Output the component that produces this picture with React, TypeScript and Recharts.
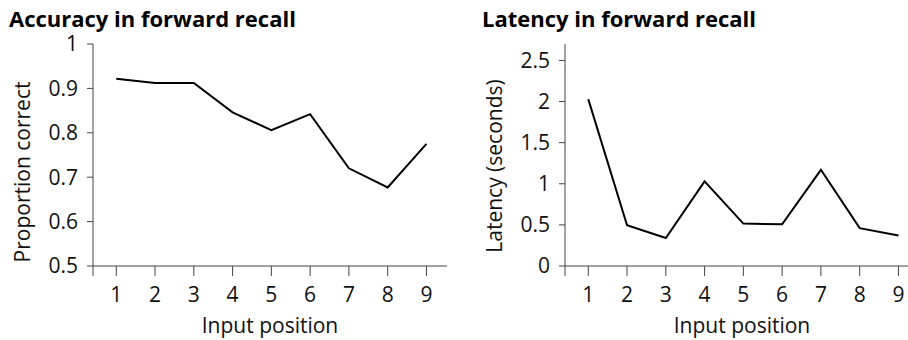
import { LineChart, Line, XAxis, YAxis } from "recharts";

// ─── Data ─────────────────────────────────────────────────────────────────────

const positions = [1, 2, 3, 4, 5, 6, 7, 8, 9];
const accuracy = [0.922, 0.912, 0.912, 0.846, 0.806, 0.842, 0.72, 0.677, 0.775];
const latency = [2.03, 0.496, 0.34, 1.03, 0.516, 0.508, 1.17, 0.46, 0.37];

const accuracyTicks = [0.5, 0.6, 0.7, 0.8, 0.9, 1];
const latencyTicks = [0, 0.5, 1, 1.5, 2, 2.5];
const xTicks = [0.4, 1, 2, 3, 4, 5, 6, 7, 8, 9];

const FONT = "'Open Sans', Lato, sans-serif";
const INK = "#111";
const AXIS = "#444";

const accuracyData = positions.map((p, i) => ({ pos: p, value: accuracy[i] }));
const latencyData = positions.map((p, i) => ({ pos: p, value: latency[i] }));

// ─── Panel ────────────────────────────────────────────────────────────────────

function yLabel(text: string, shift: number) {
  return (props: any) => {
    const vb = props.viewBox;
    const x = vb.x + vb.width - 71;
    const y = vb.y + vb.height / 2 + shift;
    return (
      <text
        x={x}
        y={y}
        transform={`rotate(-90, ${x}, ${y})`}
        textAnchor="middle"
        dominantBaseline="central"
        fontFamily={FONT}
        fontSize={21}
        fill={INK}
      >
        {text}
      </text>
    );
  };
}

function Panel({
  data,
  width,
  marginLeft,
  domain,
  ticks,
  label,
  labelShift,
}: {
  data: { pos: number; value: number }[];
  width: number;
  marginLeft: number;
  domain: [number, number];
  ticks: number[];
  label: string;
  labelShift: number;
}) {
  const tickStyle = { fontSize: 21, fill: INK, fontFamily: FONT };
  return (
    <LineChart
      width={width}
      height={340}
      data={data}
      margin={{ top: 44, right: 7, left: marginLeft, bottom: 5 }}
    >
      <XAxis
        dataKey="pos"
        type="number"
        domain={[0.4, 9.53]}
        ticks={xTicks}
        allowDataOverflow
        tickFormatter={(v: number) => (v < 1 ? "" : String(v))}
        tick={tickStyle}
        tickSize={10}
        tickMargin={11}
        stroke={AXIS}
        strokeWidth={1}
        height={69}
        label={{
          value: "Input position",
          position: "insideBottom",
          offset: 2,
          style: { fontSize: 21, fill: INK, fontFamily: FONT },
        }}
      />
      <YAxis
        type="number"
        domain={domain}
        ticks={ticks}
        allowDataOverflow
        tick={tickStyle}
        tickSize={6}
        tickMargin={9}
        stroke={AXIS}
        strokeWidth={1}
        width={60}
        label={{ content: yLabel(label, labelShift) }}
      />
      <Line
        dataKey="value"
        stroke="#000"
        strokeWidth={2}
        dot={false}
        type="linear"
        isAnimationActive={false}
      />
    </LineChart>
  );
}

export default function App() {
  const titleStyle: React.CSSProperties = {
    position: "absolute",
    top: 7,
    fontFamily: FONT,
    fontWeight: 700,
    fontSize: 22,
    lineHeight: "22px",
    color: "#000",
    whiteSpace: "nowrap",
  };
  return (
    <div
      style={{
        position: "absolute",
        left: 0,
        top: 0,
        width: 908,
        height: 340,
        overflow: "hidden",
        background: "#fff",
      }}
    >
      <div style={{ position: "absolute", left: 0, top: 0 }}>
        <Panel
          data={accuracyData}
          width={454}
          marginLeft={33}
          domain={[0.5, 1]}
          ticks={accuracyTicks}
          label="Proportion correct"
          labelShift={17}
        />
      </div>
      <div style={{ position: "absolute", left: 454, top: 0 }}>
        <Panel
          data={latencyData}
          width={472}
          marginLeft={51}
          domain={[0, 2.7]}
          ticks={latencyTicks}
          label="Latency (seconds)"
          labelShift={11}
        />
      </div>
      <div style={{ ...titleStyle, left: 9 }}>Accuracy in forward recall</div>
      <div style={{ ...titleStyle, left: 482 }}>Latency in forward recall</div>
    </div>
  );
}
